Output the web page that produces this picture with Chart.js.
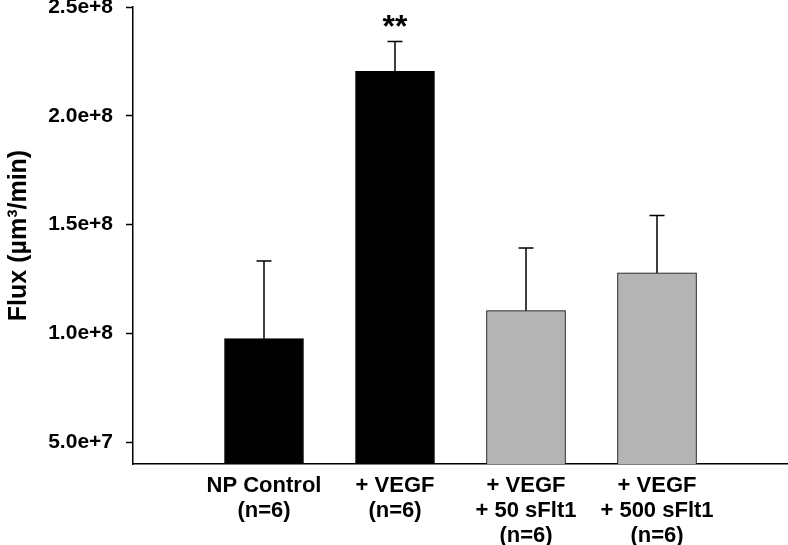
<!DOCTYPE html>
<html>
<head>
<meta charset="utf-8">
<script src="https://cdn.jsdelivr.net/npm/chart.js@4.4.0/dist/chart.umd.min.js"></script>
<style>
  html, body { margin: 0; padding: 0; background: #fff; }
  #wrap { width: 788px; height: 545px; }
</style>
</head>
<body>
<div id="wrap"><canvas id="myChart" width="788" height="545"></canvas></div>
<script>
// groups along x
const grupos = [
    ['NP Control', '(n=6)'],
    ['+ VEGF', '(n=6)'],
    ['+ VEGF', '+ 50 sFlt1', '(n=6)'],
    ['+ VEGF', '+ 500 sFlt1', '(n=6)']
];
const posiciones = [1, 2, 3, 4];
const flujo = [9.76e7, 2.204e8, 1.105e8, 1.278e8];
const errores = [3.57e7, 1.37e7, 2.88e7, 2.64e7];
const colores = ['#000000', '#000000', '#b4b4b4', '#b4b4b4'];
const marcas = ['', '**', '', ''];
const yTicks = [5e7, 1e8, 1.5e8, 2e8, 2.5e8];
const yTickLabels = ['5.0e+7', '1.0e+8', '1.5e+8', '2.0e+8', '2.5e+8'];

const fuente = "'Liberation Sans', Arial, sans-serif";

// error bars (only the upper half) and significance marks
const errorBarsPlugin = {
    id: 'errorBars',
    afterDatasetsDraw(chart){
        const ctx = chart.ctx;
        const xs = chart.scales.x;
        const ys = chart.scales.y;
        ctx.save();
        ctx.strokeStyle = '#000';
        ctx.lineWidth = 1.5;
        for(let i = 0; i < flujo.length; i++){
            const x = xs.getPixelForValue(posiciones[i]);
            const y0 = ys.getPixelForValue(flujo[i]);
            const y1 = ys.getPixelForValue(flujo[i] + errores[i]);
            ctx.beginPath();
            ctx.moveTo(x, y0);
            ctx.lineTo(x, y1);
            ctx.moveTo(x - 7.5, y1);
            ctx.lineTo(x + 7.5, y1);
            ctx.stroke();
            if(marcas[i]){
                ctx.fillStyle = '#000';
                ctx.font = "bold 32px " + fuente;
                ctx.textAlign = 'center';
                ctx.textBaseline = 'top';
                ctx.fillText(marcas[i], x, y1 - 29);
            }
        }
        ctx.restore();
    }
};

let ctx = document.getElementById('myChart');
let myChart = new Chart(ctx, {
    type: 'bar',
    data: {
        datasets: [{
            label: 'Flux',
            data: posiciones.map((p, i) => ({x: p, y: flujo[i]})),
            backgroundColor: colores,
            borderColor: '#000',
            borderWidth: 1,
            barThickness: 79,
            base: 4e7
        }]
    },
    options: {
        responsive: false,
        animation: false,
        devicePixelRatio: 1,
        layout: { padding: { top: 7, right: 0, left: 0, bottom: 0 } },
        plugins: {
            legend: { display: false },
            tooltip: { enabled: false }
        },
        scales: {
            x: {
                type: 'linear',
                offset: false,
                min: 0,
                max: 5,
                afterBuildTicks: (scale) => { scale.ticks = posiciones.map(v => ({value: v})); },
                grid: { display: false },
                border: { display: true, color: '#000', width: 1.5 },
                ticks: {
                    color: '#000',
                    font: { family: fuente, size: 22, weight: 'bold', lineHeight: 1.15 },
                    padding: 1,
                    maxRotation: 0,
                    autoSkip: false,
                    callback: (v) => {
                        const i = posiciones.indexOf(v);
                        return i >= 0 ? grupos[i] : '';
                    }
                },
                afterFit: (scale) => {
                    scale.height = 81;
                    scale.paddingRight = 0;
                }
            },
            y: {
                min: 4e7,
                max: 2.5e8,
                afterBuildTicks: (scale) => { scale.ticks = yTicks.map(v => ({value: v})); },
                grid: { drawOnChartArea: false, drawTicks: true, tickLength: 7, color: '#000', tickWidth: 1.5 },
                border: { display: true, color: '#000', width: 1.5 },
                ticks: {
                    color: '#000',
                    font: { family: fuente, size: 21, weight: 'bold' },
                    padding: 13,
                    callback: (v) => {
                        const i = yTicks.indexOf(v);
                        return i >= 0 ? yTickLabels[i] : '';
                    }
                },
                title: {
                    display: true,
                    text: 'Flux (\u00b5m\u00b3/min)',
                    color: '#000',
                    font: { family: fuente, size: 25, weight: 'bold' },
                    padding: { top: 4, bottom: 0 }
                },
                afterFit: (scale) => {
                    scale.width = 133;
                    scale.paddingTop = 0;
                }
            }
        }
    },
    plugins: [errorBarsPlugin]
});
</script>
</body>
</html>
